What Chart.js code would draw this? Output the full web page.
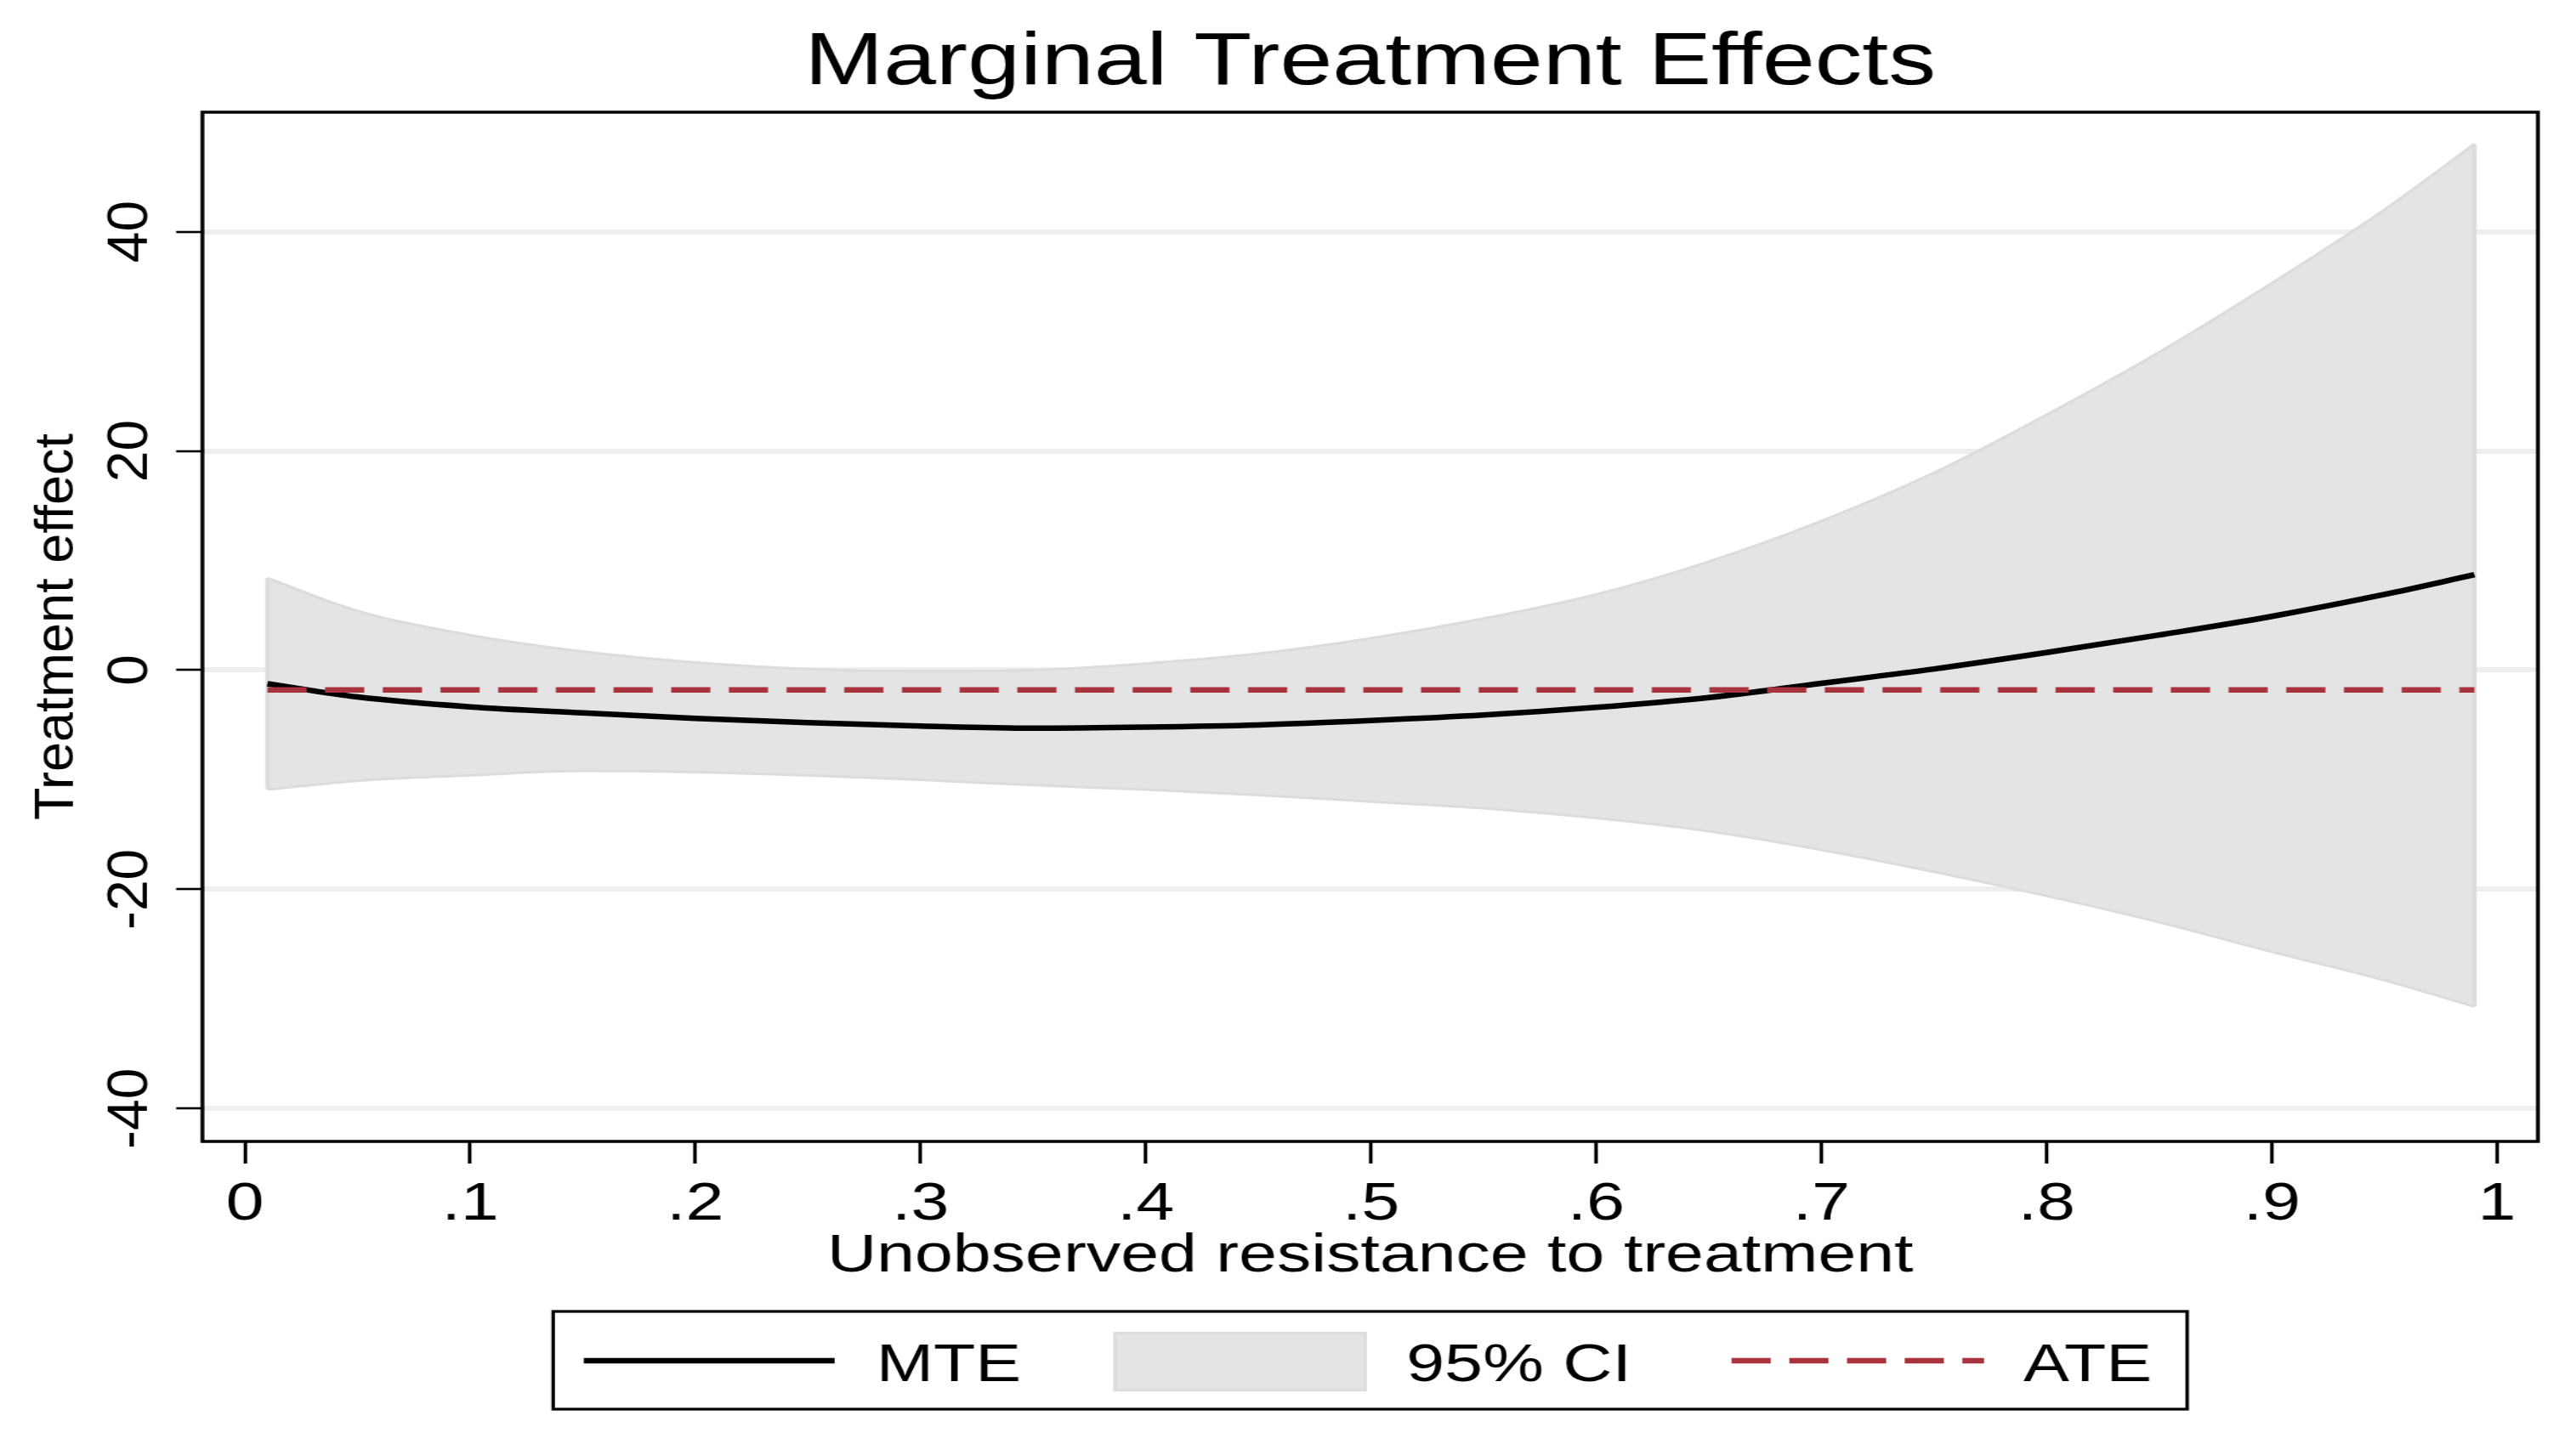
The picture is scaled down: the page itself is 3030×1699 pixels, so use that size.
<!DOCTYPE html>
<html><head><meta charset="utf-8">
<script src="https://cdn.jsdelivr.net/npm/chart.js@4.4.1/dist/chart.umd.min.js"></script>
<style>
html,body{margin:0;padding:0;background:#fff;}
#wrap{width:3030px;height:1699px;overflow:hidden;position:relative;background:#fff;}
#c{transform:scaleX(1.28011);transform-origin:0 0;display:block;}
</style></head><body>
<div id="wrap"><canvas id="c" width="2367" height="1699"></canvas></div>
<script>
// ---- chart content ----
const chartTitle = 'Marginal Treatment Effects';
const xAxisTitle = 'Unobserved resistance to treatment';
const yAxisTitle = 'Treatment effect';
const seriesNames = ['MTE', '95% CI', 'ATE'];

// unobserved resistance grid
const u = [0.01, 0.05, 0.10, 0.15, 0.20, 0.25, 0.30, 0.35, 0.40, 0.45, 0.50,
           0.55, 0.60, 0.65, 0.70, 0.75, 0.80, 0.85, 0.90, 0.95, 0.99];
// marginal treatment effect
const mte = [-1.24, -2.45, -3.35, -3.9, -4.4, -4.8, -5.1, -5.3, -5.2, -5.0, -4.6,
             -4.1, -3.4, -2.5, -1.2, 0.1, 1.6, 3.2, 4.9, 6.9, 8.7];
// 95% confidence band
const ciUpper = [8.4, 5.4, 3.2, 1.7, 0.7, 0.1, -0.1, 0.0, 0.6, 1.5, 2.9,
                 4.7, 6.9, 9.9, 13.6, 18.0, 23.3, 29.0, 35.3, 42.0, 48.0];
const ciLower = [-10.9, -10.1, -9.6, -9.2, -9.3, -9.6, -10.0, -10.5, -10.9, -11.4, -12.0,
                 -12.6, -13.5, -14.7, -16.4, -18.4, -20.6, -23.0, -25.7, -28.3, -30.7];
// average treatment effect
const ateU = [0.01, 0.99];
const ate = [-1.8, -1.8];

const xTickLabels = ['0', '.1', '.2', '.3', '.4', '.5', '.6', '.7', '.8', '.9', '1'];
const yTickLabels = ['-40', '-20', '0', '20', '40'];

// ---- styling ----
const K = 1.28011; // horizontal stretch of the page picture
const FONT = "'Liberation Sans', Arial, Helvetica, sans-serif";
const BAND_FILL = '#e4e4e4';
const BAND_EDGE = '#dcdcdc';
const ATE_COLOR = '#a9333d';
const ATE_DASH = [36, 17];

const pts = (xs, ys) => xs.map((x, i) => ({x: x, y: ys[i]}));

const frameAndLegend = {
  id: 'frameAndLegend',
  beforeDraw(chart) {
    // rotated y texts are not stretched in the reference: undo the page stretch for them
    const ys = chart.scales.y;
    if (ys && !ys.__unstretched) {
      ys.__unstretched = true;
      const origLabels = ys.drawLabels;
      ys.drawLabels = function (area) {
        let x0 = 120.7;
        try {
          const items = this.getLabelItems ? this.getLabelItems(area) : null;
          if (items && items.length && items[0].options && items[0].options.translation) {
            x0 = items[0].options.translation[0];
          }
        } catch (e) {}
        const ctx = this.ctx;
        ctx.save();
        ctx.translate(x0, 0); ctx.scale(1 / K, 1); ctx.translate(-x0, 0);
        origLabels.call(this, area);
        ctx.restore();
      };
      const origTitle = ys.drawTitle;
      ys.drawTitle = function () {
        const t = this.options.title;
        const f = Chart.helpers.toFont(t.font);
        const p = Chart.helpers.toPadding(t.padding);
        const x0 = this.left + f.lineHeight / 2 + p.top;
        const ctx = this.ctx;
        ctx.save();
        ctx.translate(x0, 0); ctx.scale(1 / K, 1); ctx.translate(-x0, 0);
        origTitle.call(this);
        ctx.restore();
      };
    }
  },
  beforeDatasetsDraw(chart) {
    // closing edges of the confidence band
    const ctx = chart.ctx, xs = chart.scales.x, ys = chart.scales.y;
    const n = u.length - 1;
    ctx.save();
    ctx.strokeStyle = BAND_EDGE; ctx.lineWidth = 4;
    ctx.beginPath();
    ctx.moveTo(xs.getPixelForValue(u[0]), ys.getPixelForValue(ciUpper[0]));
    ctx.lineTo(xs.getPixelForValue(u[0]), ys.getPixelForValue(ciLower[0]));
    ctx.moveTo(xs.getPixelForValue(u[n]), ys.getPixelForValue(ciUpper[n]));
    ctx.lineTo(xs.getPixelForValue(u[n]), ys.getPixelForValue(ciLower[n]));
    ctx.stroke();
    ctx.restore();
  },
  afterDraw(chart) {
    const ctx = chart.ctx;
    const a = chart.chartArea;
    ctx.save();
    // plot frame
    ctx.strokeStyle = '#000';
    ctx.lineWidth = 3.5;
    ctx.strokeRect(a.left, a.top, a.right - a.left, a.bottom - a.top);

    // legend
    const ds = chart.data.datasets;
    const cx = (a.left + a.right) / 2;
    const L = cx - 750.7, R = cx + 750.7, T = 1543, B = 1658;
    ctx.lineWidth = 3.2;
    ctx.strokeStyle = '#000';
    ctx.strokeRect(L, T, R - L, B - T);
    const midY = 1601;
    // MTE sample
    ctx.beginPath();
    ctx.strokeStyle = ds[1].borderColor;
    ctx.lineWidth = ds[1].borderWidth;
    ctx.moveTo(L + 28.1, midY); ctx.lineTo(L + 258.6, midY);
    ctx.stroke();
    // CI sample
    ctx.fillStyle = BAND_FILL;
    ctx.fillRect(L + 514.8, 1567, 232.9, 70);
    ctx.strokeStyle = BAND_EDGE; ctx.lineWidth = 3;
    ctx.strokeRect(L + 516.3, 1568.5, 229.9, 67);
    // ATE sample
    ctx.beginPath();
    ctx.setLineDash(ATE_DASH);
    ctx.strokeStyle = ATE_COLOR; ctx.lineWidth = ds[0].borderWidth;
    ctx.moveTo(L + 1082.8, midY); ctx.lineTo(L + 1314.8, midY);
    ctx.stroke();
    ctx.setLineDash([]);
    // labels
    ctx.fillStyle = '#000';
    ctx.font = '63px ' + FONT;
    ctx.textAlign = 'left';
    ctx.textBaseline = 'alphabetic';
    ctx.fillText(seriesNames[0], L + 297, 1625);
    ctx.fillText(seriesNames[1], L + 784, 1625);
    ctx.fillText(seriesNames[2], L + 1351, 1625);
    ctx.restore();
  }
};

new Chart(document.getElementById('c'), {
  type: 'line',
  data: {
    datasets: [
      { label: seriesNames[2], data: pts(ateU, ate), borderColor: ATE_COLOR, borderWidth: 6.5,
        borderDash: ATE_DASH, pointRadius: 0, fill: false, tension: 0 },
      { label: seriesNames[0], data: pts(u, mte), borderColor: '#000', borderWidth: 6.5,
        pointRadius: 0, fill: false, cubicInterpolationMode: 'monotone' },
      { label: seriesNames[1], data: pts(u, ciUpper), borderColor: BAND_EDGE, borderWidth: 3,
        backgroundColor: BAND_FILL, pointRadius: 0, fill: '+1', cubicInterpolationMode: 'monotone' },
      { label: seriesNames[1] + ' lower', data: pts(u, ciLower), borderColor: BAND_EDGE, borderWidth: 3,
        backgroundColor: BAND_FILL, pointRadius: 0, fill: false, cubicInterpolationMode: 'monotone' }
    ]
  },
  options: {
    responsive: false,
    animation: false,
    devicePixelRatio: 1,
    layout: { padding: { top: 0, right: 35, bottom: 189, left: 0 } },
    plugins: {
      legend: { display: false },
      tooltip: { enabled: false },
      filler: { drawTime: 'beforeDatasetsDraw' },
      title: {
        display: true, text: chartTitle, fullSize: false, color: '#000',
        font: { family: FONT, size: 87, weight: 'normal', lineHeight: 1.2 },
        padding: { top: 22.7, bottom: 4.9 }
      }
    },
    scales: {
      x: {
        type: 'linear', min: -0.01885, max: 1.0182,
        border: { display: false },
        grid: { display: true, drawOnChartArea: false, drawTicks: true, tickLength: 26,
                tickColor: '#000', tickWidth: 3.3 },
        ticks: { stepSize: 0.1, includeBounds: false, autoSkip: false, maxRotation: 0, minRotation: 0,
                 color: '#000', padding: 17,
                 font: { family: FONT, size: 63, lineHeight: 1.0 },
                 callback: (v, i) => xTickLabels[i] },
        title: { display: true, text: xAxisTitle, color: '#000',
                 font: { family: FONT, size: 63, lineHeight: 1.0 },
                 padding: { top: -19, bottom: 0 } }
      },
      y: {
        type: 'linear', min: -43.0, max: 50.9,
        border: { display: false },
        afterFit: (s) => { s.width = 186; },
        grid: { display: true, drawOnChartArea: true, drawTicks: true, color: '#eeeeee', lineWidth: 6,
                tickLength: 24.2, tickColor: '#000', tickWidth: 2.6 },
        ticks: { stepSize: 20, includeBounds: false, autoSkip: false, minRotation: 90, maxRotation: 90,
                 crossAlign: 'center', padding: -6.6, color: '#000',
                 font: { family: FONT, size: 66, lineHeight: 1.0 },
                 callback: (v, i) => yTickLabels[i] },
        title: { display: true, text: yAxisTitle, color: '#000',
                 font: { family: FONT, size: 63, lineHeight: 1.0 },
                 padding: { top: 21.6, bottom: 0 } }
      }
    }
  },
  plugins: [frameAndLegend]
});
</script>
</body></html>
